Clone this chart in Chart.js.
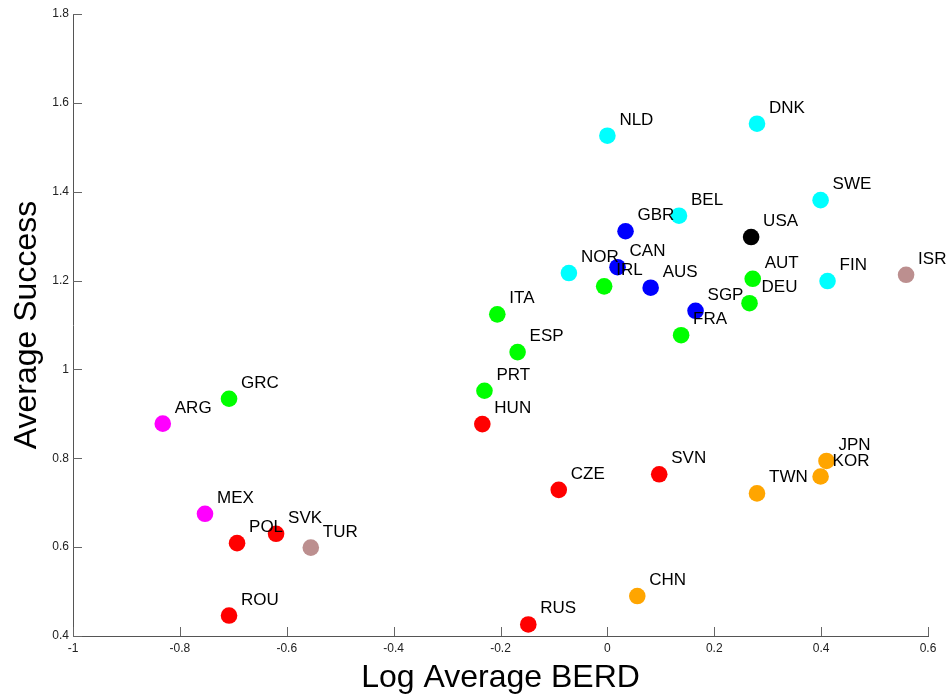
<!DOCTYPE html>
<html>
<head>
<meta charset="utf-8">
<script src="https://cdn.jsdelivr.net/npm/chart.js@4.4.0/dist/chart.umd.min.js"></script>
<style>
  html, body { margin: 0; padding: 0; background: #fff; }
  #wrap { width: 951px; height: 698px; }
</style>
</head>
<body>
<div id="wrap"><canvas id="chart"></canvas></div>
<script>
// colours used for the country groups
const CYAN = "#00ffff", BLUE = "#0000ff", GREEN = "#00ff00", RED = "#ff0000";
const MAGENTA = "#ff00ff", ORANGE = "#ffa500", ROSY = "#bc8f8f", BLACK = "#000000";

// data
const countries = ["NLD", "DNK", "SWE", "BEL", "GBR", "USA", "NOR", "CAN", "IRL", "AUS",
  "AUT", "DEU", "SGP", "FRA", "FIN", "ISR", "ITA", "ESP", "PRT", "HUN",
  "GRC", "ARG", "MEX", "POL", "SVK", "TUR", "ROU", "RUS", "CZE", "SVN",
  "TWN", "KOR", "JPN", "CHN"];
const logBerd = [0.000, 0.280, 0.399, 0.134, 0.034, 0.269, -0.072, 0.019, -0.006, 0.081,
  0.272, 0.266, 0.165, 0.138, 0.412, 0.559, -0.206, -0.168, -0.230, -0.234,
  -0.708, -0.832, -0.753, -0.693, -0.620, -0.555, -0.708, -0.148, -0.091, 0.097,
  0.280, 0.399, 0.410, 0.056];
const avgSuccess = [1.526, 1.553, 1.381, 1.346, 1.311, 1.298, 1.217, 1.230, 1.187, 1.184,
  1.204, 1.149, 1.132, 1.077, 1.199, 1.213, 1.124, 1.039, 0.952, 0.877,
  0.934, 0.878, 0.675, 0.609, 0.630, 0.599, 0.446, 0.426, 0.729, 0.764,
  0.721, 0.759, 0.794, 0.490];
const pointColors = [CYAN, CYAN, CYAN, CYAN, BLUE, BLACK, CYAN, BLUE, GREEN, BLUE,
  GREEN, GREEN, BLUE, GREEN, CYAN, ROSY, GREEN, GREEN, GREEN, RED,
  GREEN, MAGENTA, MAGENTA, RED, RED, ROSY, RED, RED, RED, RED,
  ORANGE, ORANGE, ORANGE, ORANGE];

const xTicks = [-1, -0.8, -0.6, -0.4, -0.2, 0, 0.2, 0.4, 0.6];
const yTicks = [0.4, 0.6, 0.8, 1, 1.2, 1.4, 1.6, 1.8];

const FONT = '"Liberation Sans", Arial, Helvetica, sans-serif';
Chart.defaults.font.family = FONT;

// matlab style ticks pointing into the plot
const insideTicks = {
  id: "insideTicks",
  beforeDatasetsDraw(chart) {
    const { ctx, chartArea, scales: { x, y } } = chart;
    ctx.save();
    ctx.strokeStyle = "#666";
    ctx.lineWidth = 1;
    ctx.beginPath();
    xTicks.forEach(v => {
      const px = Math.round(x.getPixelForValue(v)) + 0.5;
      ctx.moveTo(px, chartArea.bottom);
      ctx.lineTo(px, chartArea.bottom - 9);
    });
    yTicks.forEach(v => {
      const py = Math.round(y.getPixelForValue(v)) + 0.5;
      ctx.moveTo(chartArea.left, py);
      ctx.lineTo(chartArea.left + 9, py);
    });
    ctx.stroke();
    ctx.restore();
  }
};

// country codes next to each dot
const countryLabels = {
  id: "countryLabels",
  afterDatasetsDraw(chart) {
    const { ctx } = chart;
    const pts = chart.getDatasetMeta(0).data;
    ctx.save();
    ctx.fillStyle = "#000";
    ctx.font = "17px " + FONT;
    ctx.textAlign = "left";
    ctx.textBaseline = "alphabetic";
    pts.forEach((p, i) => {
      ctx.fillText(countries[i], p.x + 12, p.y - 11);
    });
    ctx.restore();
  }
};

new Chart(document.getElementById("chart"), {
  type: "scatter",
  data: {
    datasets: [{
      data: countries.map((c, i) => ({ x: logBerd[i], y: avgSuccess[i] })),
      pointBackgroundColor: pointColors,
      pointBorderWidth: 0,
      pointRadius: 8.3,
      pointHoverRadius: 8.3
    }]
  },
  options: {
    responsive: true,
    maintainAspectRatio: false,
    animation: false,
    layout: { padding: { top: 14, right: 23, left: 0, bottom: 0 } },
    plugins: { legend: { display: false }, tooltip: { enabled: false } },
    scales: {
      x: {
        type: "linear",
        min: -1,
        max: 0.6,
        afterBuildTicks: s => { s.ticks = xTicks.map(v => ({ value: v })); },
        afterFit: s => { s.height = 62; },
        grid: { display: false, drawTicks: false },
        border: { display: true, color: "#555", width: 1 },
        ticks: {
          color: "#222", font: { size: 12 }, padding: 5,
          maxRotation: 0, autoSkip: false, callback: v => String(v)
        },
        title: {
          display: true, text: "Log Average BERD", color: "#000",
          font: { size: 32 }, padding: { top: 0, bottom: 1 }
        }
      },
      y: {
        type: "linear",
        min: 0.4,
        max: 1.8,
        afterBuildTicks: s => { s.ticks = yTicks.map(v => ({ value: v })); },
        afterFit: s => { s.width = 73; },
        grid: { display: false, drawTicks: false },
        border: { display: true, color: "#555", width: 1 },
        ticks: {
          color: "#222", font: { size: 12 }, padding: 4,
          autoSkip: false, callback: v => String(v)
        },
        title: {
          display: true, text: "Average Success", color: "#000",
          font: { size: 32 }, padding: { top: 8, bottom: 0 }
        }
      }
    }
  },
  plugins: [insideTicks, countryLabels]
});
</script>
</body>
</html>
